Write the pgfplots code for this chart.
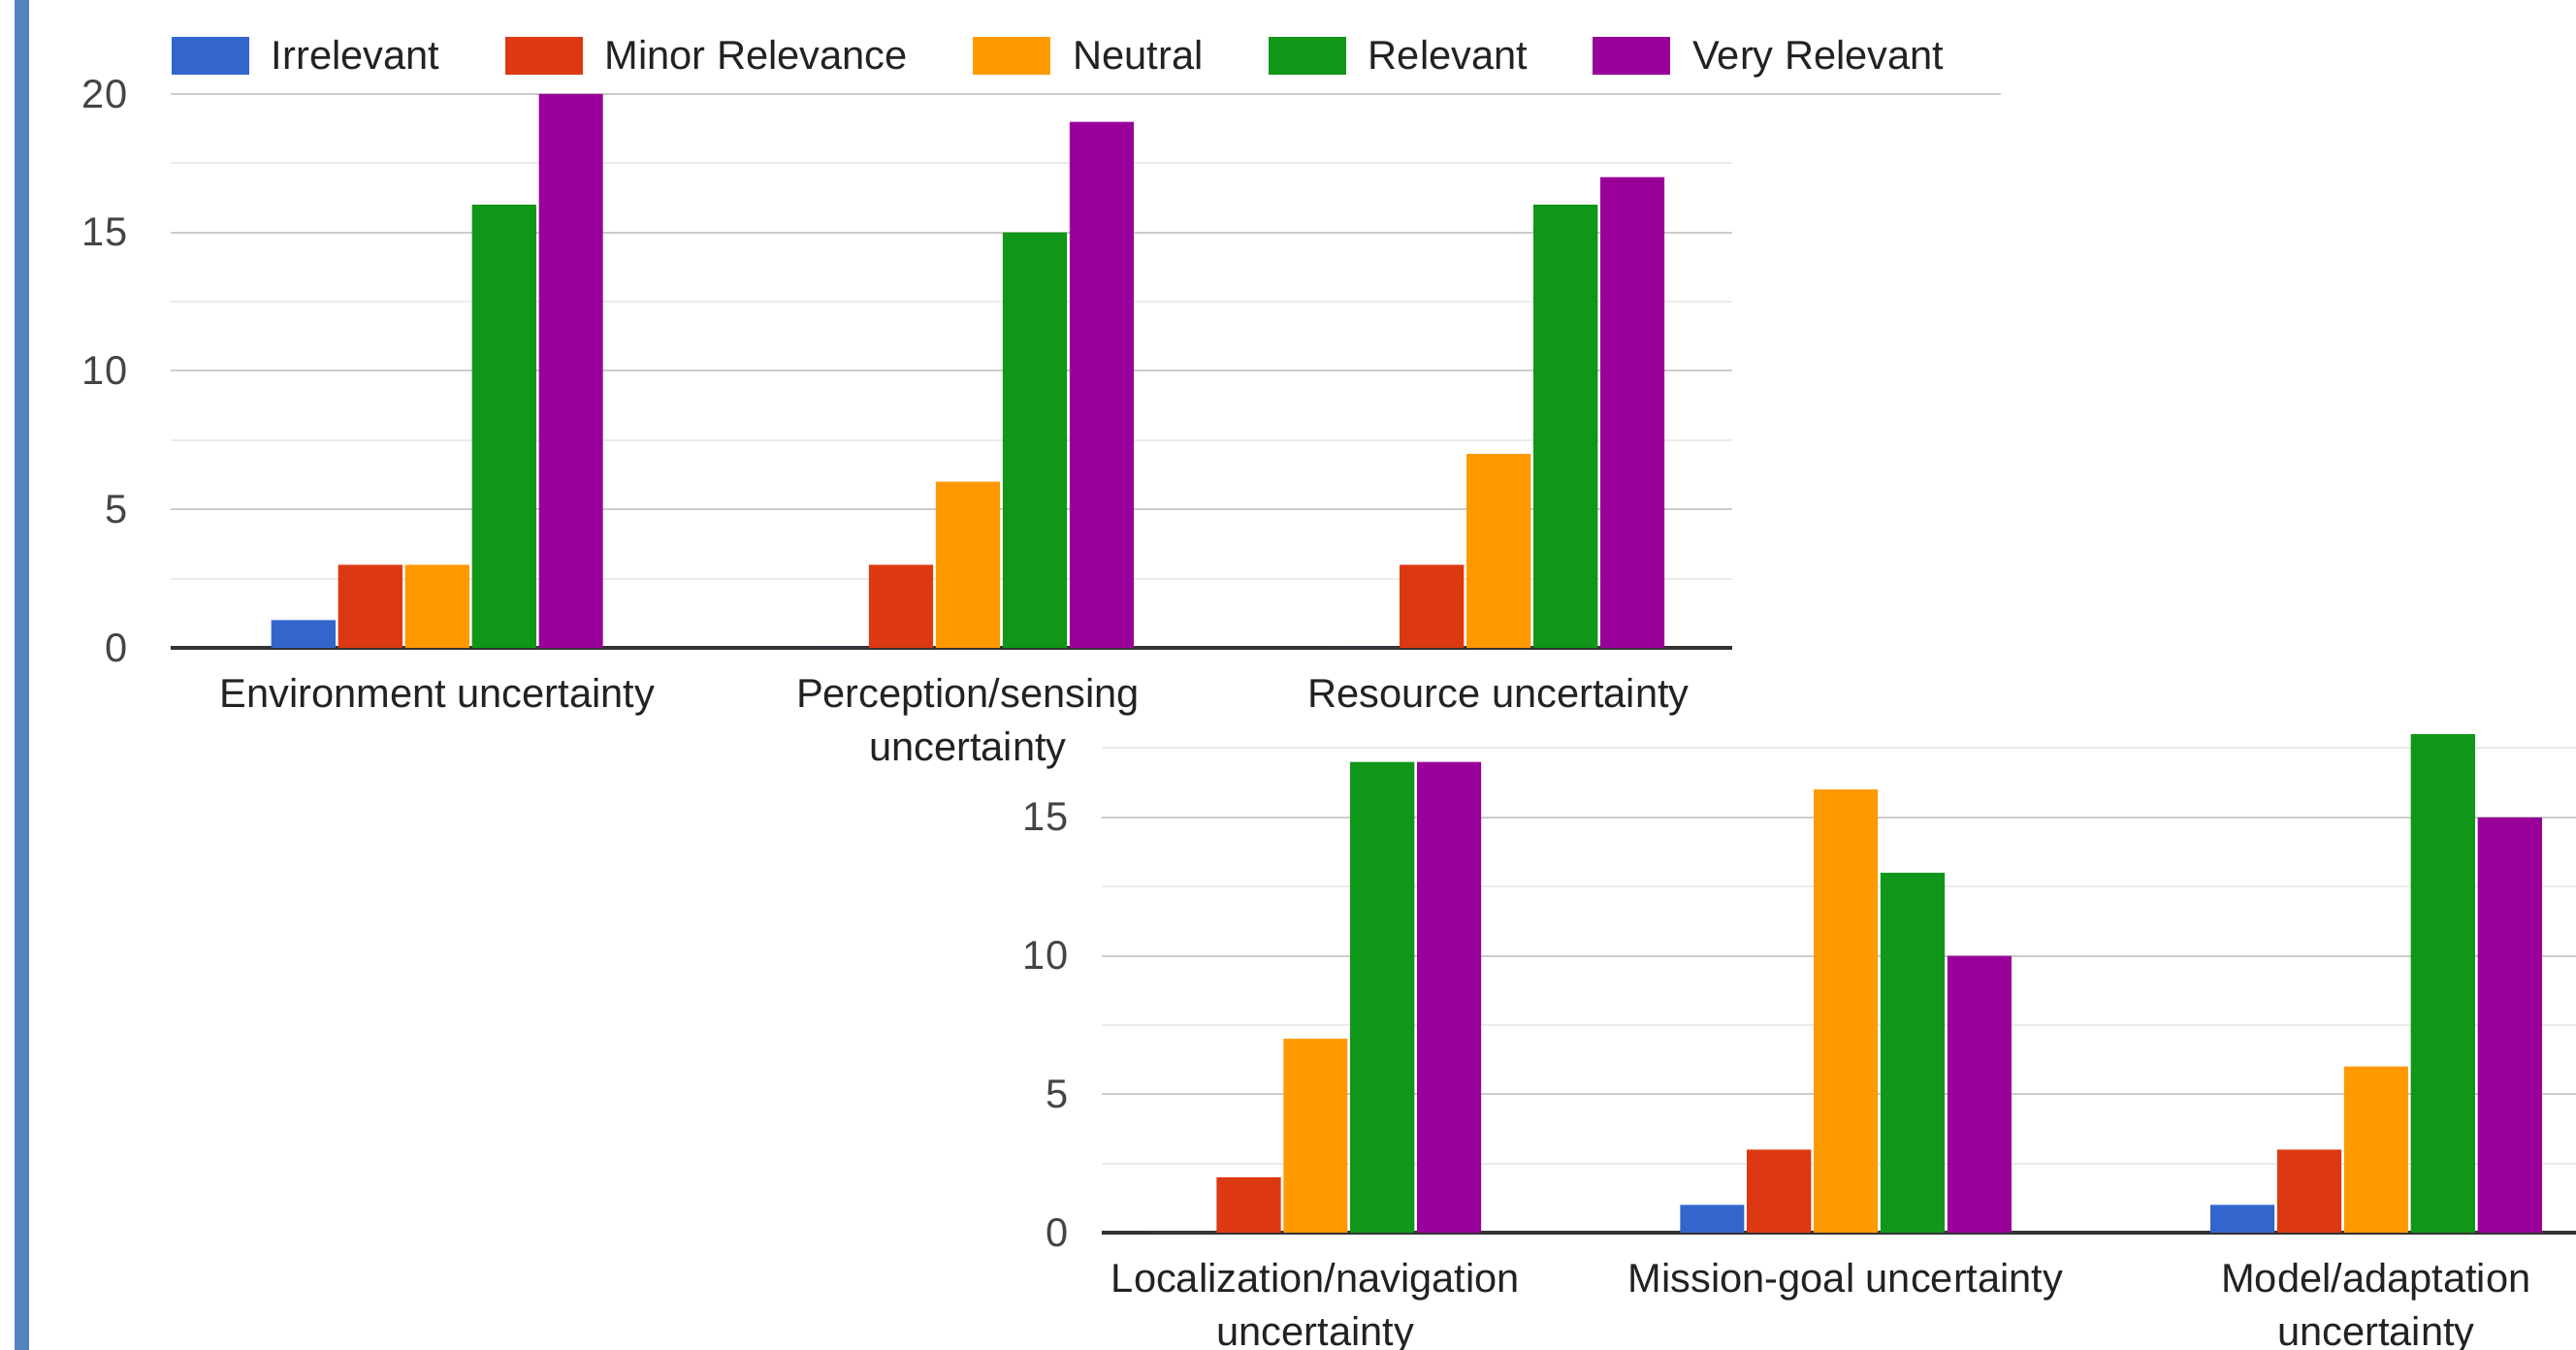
\documentclass[border=0pt]{standalone}
\usepackage{fontspec}
\setmainfont{Liberation Sans}
\usepackage{pgfplots}
\usepackage{pgfplotstable}
\pgfplotsset{compat=1.18}

\definecolor{gBlue}{HTML}{3366CC}
\definecolor{gRed}{HTML}{DC3912}
\definecolor{gOrange}{HTML}{FF9900}
\definecolor{gGreen}{HTML}{109618}
\definecolor{gPurple}{HTML}{990099}
\definecolor{gridMaj}{HTML}{CCCCCC}
\definecolor{gridMin}{HTML}{EBEBEB}
\definecolor{baseLine}{HTML}{333333}
\definecolor{tickTxt}{HTML}{444444}
\definecolor{lblTxt}{HTML}{222222}
\definecolor{sideBlue}{RGB}{84,130,192}

% counts per category: Irrelevant, Minor Relevance, Neutral, Relevant, Very Relevant
\pgfplotstableread{
x irr minor neutral rel vrel
0 1 3 3  16 20
1 0 3 6  15 19
2 0 3 7  16 17
}\topdata
\pgfplotstableread{
x irr minor neutral rel vrel
0 0 2 7  17 17
1 1 3 16 13 10
2 1 3 6  18 15
}\botdata

\pgfplotsset{
  gchart/.style={
    scale only axis,
    ybar, bar width=0.121,
    ymin=0,
    axis line style={draw=none},
    tick style={draw=none},
    ymajorgrids, yminorgrids,
    major grid style={gridMaj, line width=0.5pt},
    minor grid style={gridMin, line width=0.5pt},
    extra y ticks={0},
    extra y tick style={major grid style={baseLine, line width=0.8pt}},
    minor ytick={2.5,7.5,12.5,17.5},
    xtick={0,1,2},
    /pgf/number format/assume math mode=true,
    yticklabel style={font=\fontsize{10.4}{12}\selectfont, text=tickTxt, anchor=east, inner sep=0pt},
    xticklabel style={font=\fontsize{10.4}{13.75}\selectfont, text=lblTxt, align=center, anchor=north, inner sep=0pt, yshift=-3.3pt},
  },
}

\begin{document}
\begin{tikzpicture}
\useasboundingbox (0,0) rectangle (664pt,348pt);
\fill[sideBlue] (3.75pt,0) rectangle (7.5pt,348pt);

\begin{axis}[gchart,
    at={(44pt,181pt)}, anchor=south west,
    width=402.5pt, height=142.75pt,
    xmin=-0.502, xmax=2.44, ymax=20,
    ytick={5,10,15,20},
    yticklabel style={xshift=-11pt},
    xticklabels={Environment uncertainty, Perception/sensing\\uncertainty, Resource uncertainty},
    legend columns=-1,
    legend image code/.code={\fill[#1] (0pt,-4.4pt) rectangle (20pt,5.35pt);},
    legend style={draw=none, fill=none, at={(0,1)}, anchor=west, yshift=9.3pt,
      inner sep=0pt, font=\fontsize{10.4}{12}\selectfont, text=lblTxt,
      /tikz/every odd column/.append style={column sep=3.8pt},
      /tikz/every even column/.append style={column sep=14.8pt}},
  ]
  \addplot[fill=gBlue,   draw=none, bar shift=-0.252] table[x=x,y=irr]{\topdata};
  \addplot[fill=gRed,    draw=none, bar shift=-0.126] table[x=x,y=minor]{\topdata};
  \addplot[fill=gOrange, draw=none, bar shift=0]      table[x=x,y=neutral]{\topdata};
  \addplot[fill=gGreen,  draw=none, bar shift=0.126]  table[x=x,y=rel]{\topdata};
  \addplot[fill=gPurple, draw=none, bar shift=0.252]  table[x=x,y=vrel]{\topdata};
  \legend{Irrelevant, Minor Relevance, Neutral, Relevant, Very Relevant}
\end{axis}
% the 20 grid line runs on under the legend
\draw[gridMaj, line width=0.5pt] (446.5pt,323.75pt) -- (515.75pt,323.75pt);

\begin{axis}[gchart,
    at={(284pt,30.25pt)}, anchor=south west,
    width=380pt, height=129.9pt,
    xmin=-0.403, xmax=2.377, ymax=18.2,
    ytick={5,10,15},
    yticklabel style={xshift=-8.5pt},
    xticklabels={Localization/navigation\\uncertainty, Mission-goal uncertainty, Model/adaptation\\uncertainty},
  ]
  \addplot[fill=gBlue,   draw=none, bar shift=-0.252] table[x=x,y=irr]{\botdata};
  \addplot[fill=gRed,    draw=none, bar shift=-0.126] table[x=x,y=minor]{\botdata};
  \addplot[fill=gOrange, draw=none, bar shift=0]      table[x=x,y=neutral]{\botdata};
  \addplot[fill=gGreen,  draw=none, bar shift=0.126]  table[x=x,y=rel]{\botdata};
  \addplot[fill=gPurple, draw=none, bar shift=0.252]  table[x=x,y=vrel]{\botdata};
\end{axis}
\end{tikzpicture}
\end{document}
